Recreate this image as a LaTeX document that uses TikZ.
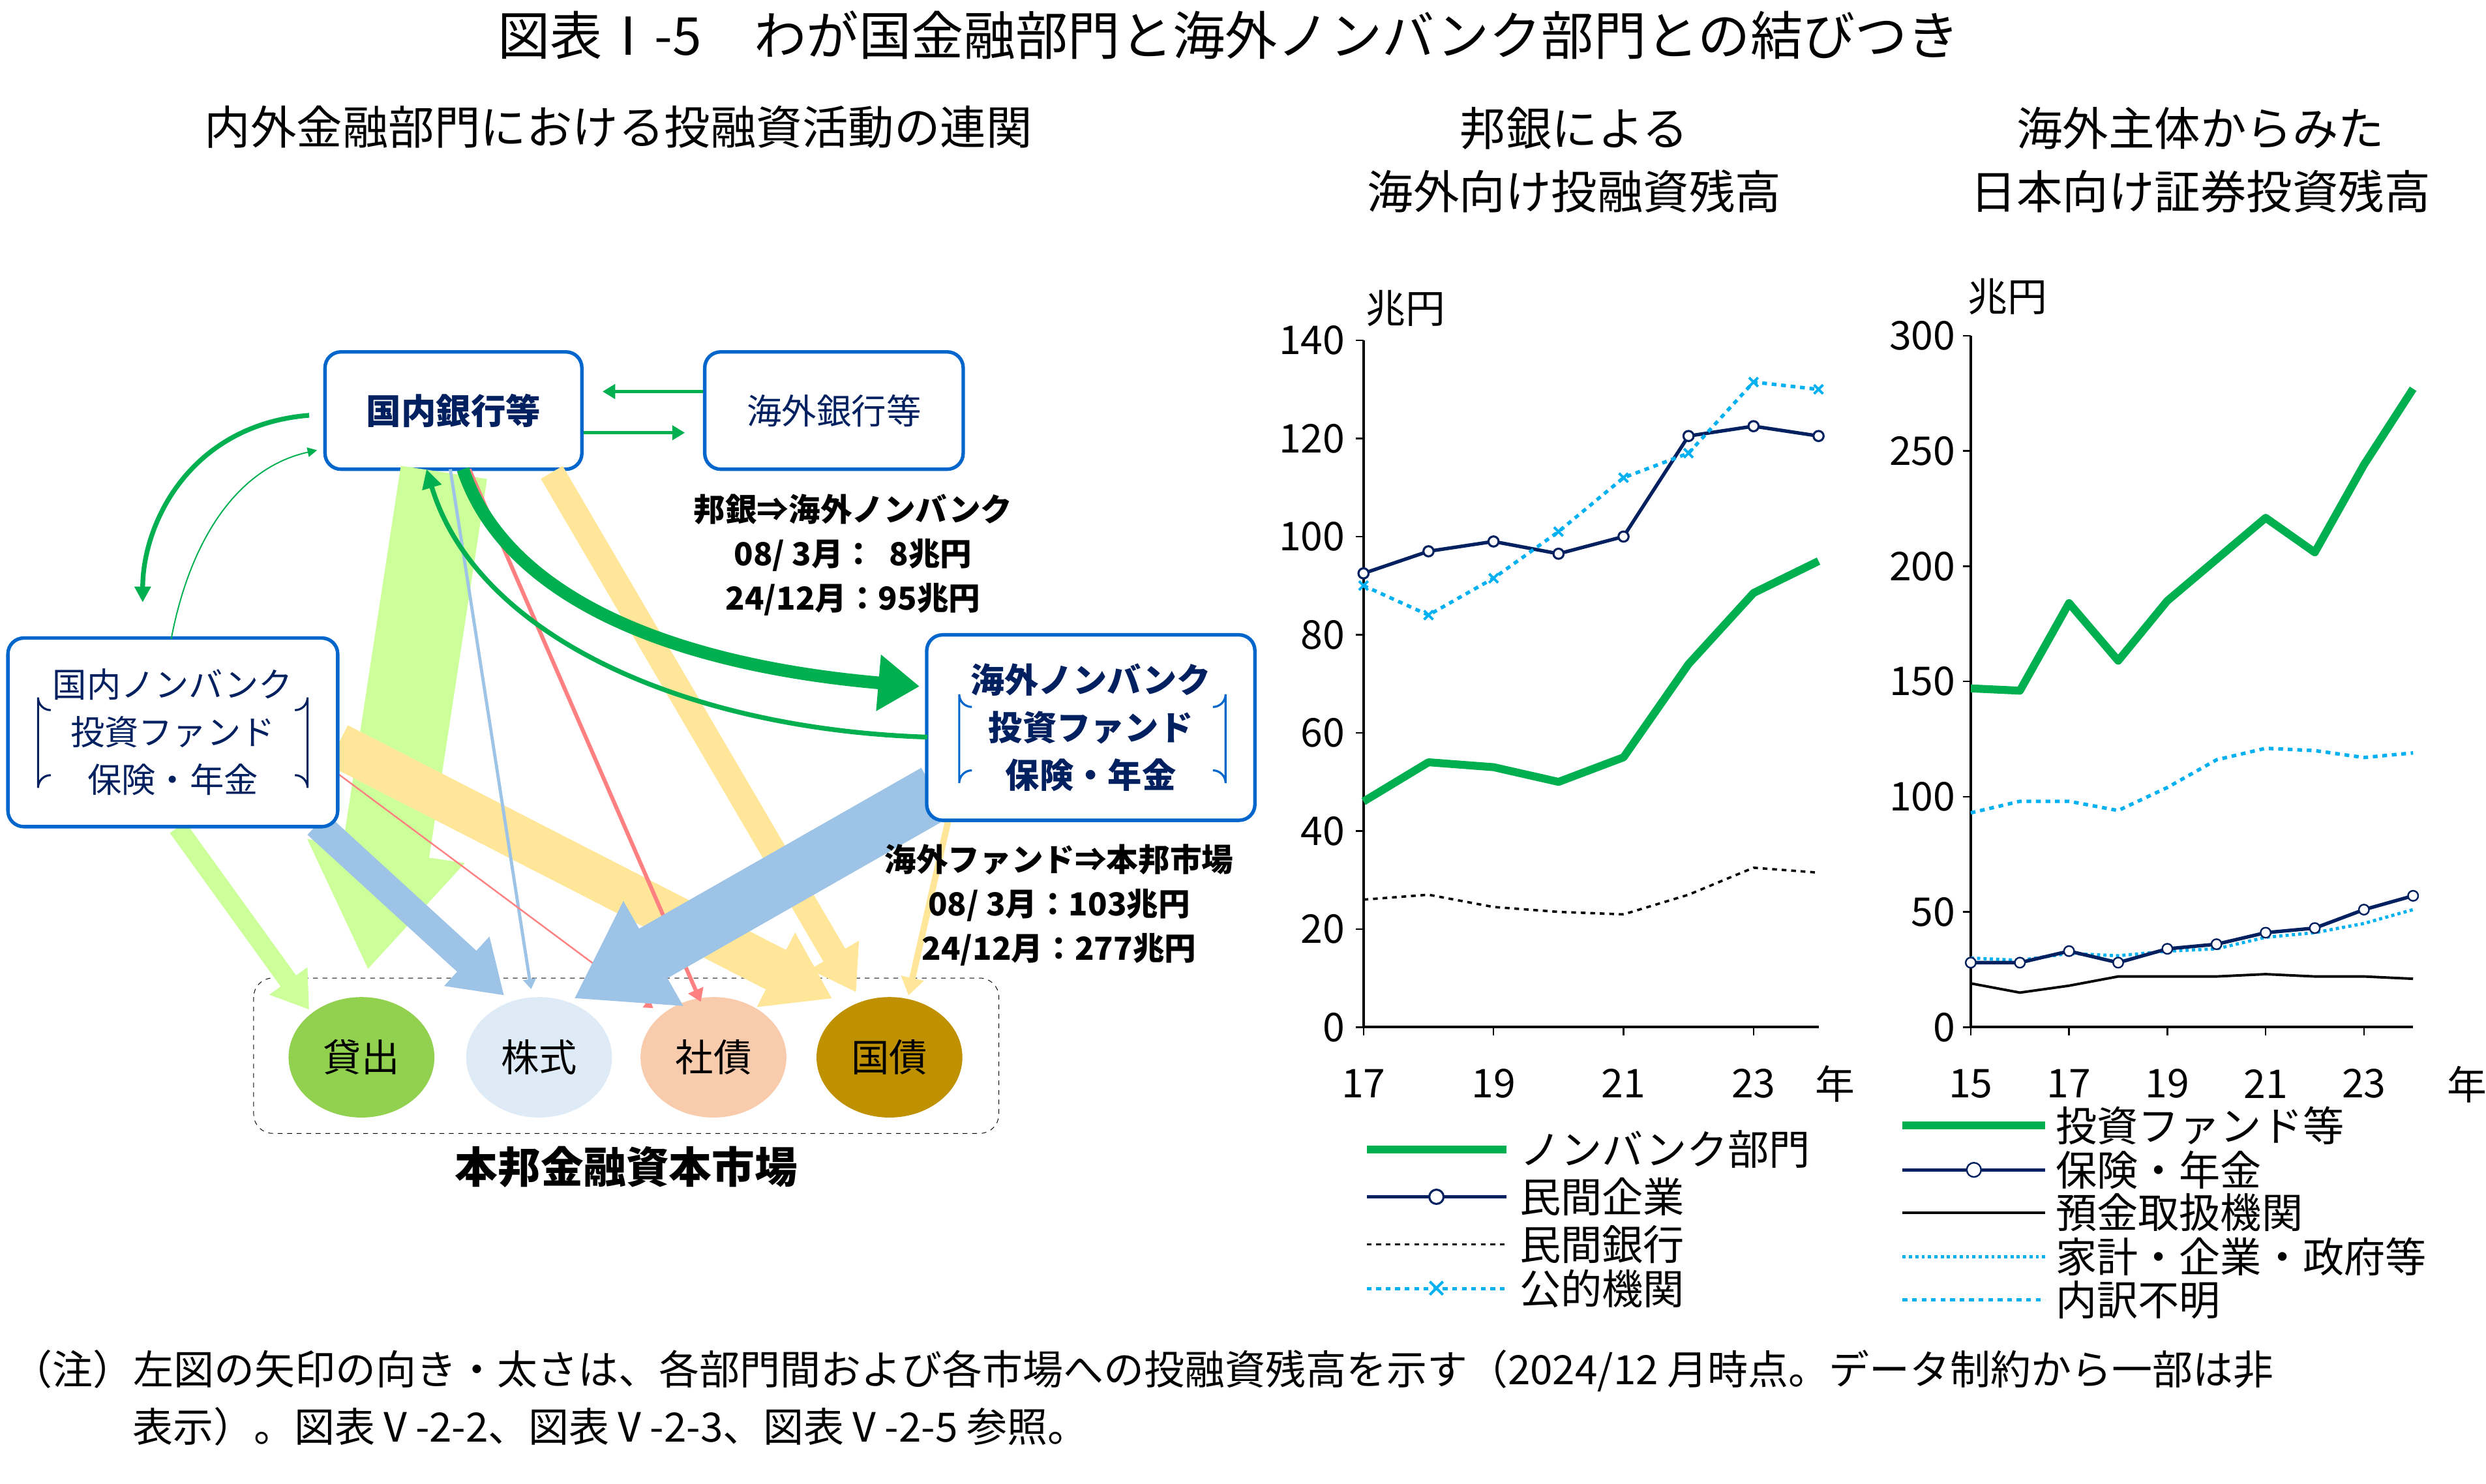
\documentclass[tikz,border=0pt]{standalone}
\usepackage{fontspec}
\setmainfont{Noto Sans CJK JP}
\usetikzlibrary{arrows.meta,shapes.geometric,calc}
\definecolor{navy}{RGB}{0,32,96}
\definecolor{bbox}{RGB}{0,102,204}
\definecolor{gr}{RGB}{0,176,80}
\definecolor{lgr}{RGB}{204,255,153}
\definecolor{lblue}{RGB}{157,195,230}
\definecolor{cyan2}{RGB}{0,176,240}
\definecolor{ylw}{RGB}{255,230,153}
\definecolor{rd}{RGB}{255,128,128}
\begin{document}
\begin{tikzpicture}[x=1pt,y=-1pt,
  box/.style={draw=bbox,line width=2.2pt,rounded corners=10pt,fill=white,align=center},
  mk/.style={ellipse,minimum width=92pt,minimum height=76pt,inner sep=0},
  lab/.style={font=\fontsize{20}{28}\selectfont\bfseries,align=center},
  tick/.style={font=\fontsize{25}{27}\selectfont},
  leg/.style={font=\fontsize{26}{28}\selectfont,anchor=west},
  wa/.style={-{Triangle[width=#1,length=0.8*#1]}}]
\useasboundingbox (0,0) rectangle (1568,936);
% titles
\node[font=\fontsize{33}{36}\selectfont] (title) at (775,22) {図表Ⅰ-5　わが国金融部門と海外ノンバンク部門との結びつき};
\node[font=\fontsize{29}{33}\selectfont] (st1) at (390,80) {内外金融部門における投融資活動の連関};
\node[font=\fontsize{29}{40}\selectfont,align=center] (st2) at (993,101) {邦銀による\\海外向け投融資残高};
\node[font=\fontsize{29}{40}\selectfont,align=center] (st3) at (1388,101) {海外主体からみた\\日本向け証券投資残高};
% market frame
\draw[dashed,rounded corners=12pt] (160,617) rectangle (630,715);
\node[font=\fontsize{27}{30}\selectfont\bfseries] (mkt) at (395,736) {本邦金融資本市場};
% nodes
\node[box,minimum width=162pt,minimum height=74pt,text=navy,font=\fontsize{22}{24}\selectfont\bfseries] (jb) at (286,259) {国内銀行等};
\node[box,minimum width=163pt,minimum height=74pt,text=navy,font=\fontsize{22}{24}\selectfont] (ob) at (526,259) {海外銀行等};
\node[mk,fill={rgb,255:red,146;green,208;blue,80}] (loan) at (228,667) {};
\node[mk,fill={rgb,255:red,222;green,235;blue,247}] (stk) at (340,667) {};
\node[mk,fill={rgb,255:red,248;green,203;blue,173}] (cb) at (450,667) {};
\node[mk,fill={rgb,255:red,191;green,144;blue,0}] (jgb) at (561,667) {};
% flows
\draw[lgr,line width=55pt,wa=95pt] (280,298) -- (232,612);
\draw[lgr,line width=12pt,wa=28pt] (112,522) -- (195,637);
\draw[ylw,line width=28pt,wa=50pt] (213,470) -- (525,630);
\draw[ylw,line width=16pt,wa=34pt] (348,298) -- (540,626);
\draw[ylw,line width=4pt,wa=14pt] (598,518) -- (573,628);
\draw[lblue,line width=18pt,wa=40pt] (200,520) -- (318,628);
\draw[lblue,line width=2pt,wa=8pt] (284,296) -- (335,624);
\draw[rd,line width=2.5pt,wa=10pt] (296,296) -- (442,632);
\draw[rd,line width=1pt,wa=7pt] (213,488) -- (412,636);
\draw[lblue,line width=36pt,wa=72pt] (590,500) -- (362,630);
\node[font=\fontsize{24}{26}\selectfont] at (loan) {貸出};
\node[font=\fontsize{24}{26}\selectfont] at (stk) {株式};
\node[font=\fontsize{24}{26}\selectfont] at (cb) {社債};
\node[font=\fontsize{24}{26}\selectfont] at (jgb) {国債};
\node[box,minimum width=208pt,minimum height=119pt] (jn) at (109,462) {};
\node[box,minimum width=207pt,minimum height=117pt] (on) at (688,459) {};
\node[text=navy,font=\fontsize{21.5}{30}\selectfont,align=center] at (109,462) {国内ノンバンク\\投資ファンド\\保険・年金};
\node[text=navy,font=\fontsize{21.5}{30}\selectfont\bfseries,align=center] at (688,459) {海外ノンバンク\\投資ファンド\\保険・年金};
\draw[navy,line width=1.3pt] (32,448) arc[start angle=90,end angle=180,radius=8] -- (24,497) arc[start angle=180,end angle=270,radius=8];
\draw[navy,line width=1.3pt] (186,448) arc[start angle=90,end angle=0,radius=8] -- (194,497) arc[start angle=0,end angle=-90,radius=8];
\draw[bbox,line width=1.3pt] (613,446) arc[start angle=90,end angle=180,radius=8] -- (605,494) arc[start angle=180,end angle=270,radius=8];
\draw[bbox,line width=1.3pt] (765,446) arc[start angle=90,end angle=0,radius=8] -- (773,494) arc[start angle=0,end angle=-90,radius=8];
% green links
\draw[gr,line width=2pt,-{Triangle[width=9pt,length=8pt]}] (ob.west|-0,247) -- (380,247);
\draw[gr,line width=2pt,-{Triangle[width=9pt,length=8pt]}] (jb.east|-0,273) -- (432,273);
\draw[gr,line width=3pt,-{Triangle[width=10pt,length=10pt]}] (195,262) .. controls (120,268) and (90,330) .. (90,380);
\draw[gr,line width=0.8pt,-{Triangle[width=6pt,length=6pt]}] (108,403) .. controls (120,340) and (150,295) .. (200,284);
\draw[gr,line width=8pt,-{Triangle[width=34pt,length=26pt]}] (292,296) .. controls (320,380) and (430,420) .. (580,433);
\draw[gr,line width=3pt,-{Triangle[width=12pt,length=12pt]}] (585,465) .. controls (430,460) and (300,400) .. (269,296);
\node[lab] (l1) at (538,350) {邦銀⇒海外ノンバンク\\08/ 3月：\ \ 8兆円\\24/12月：95兆円};
\node[lab] (l2) at (668,571) {海外ファンド⇒本邦市場\\08/ 3月：103兆円\\24/12月：277兆円};
% chart 1
\begin{scope}[shift={(860,648)},x=41pt,y={(0,3.095pt)}]
\draw[line width=1.6pt] (0,140) -- (0,0) -- (7,0);
\foreach \v in {0,20,...,140} {\draw[line width=1pt] (0,\v) -- ++(-5pt,0); \node[tick,anchor=east] at (-0.2,\v) {\v};}
\foreach \i/\l in {0/17,2/19,4/21,6/23} {\draw[line width=1pt] (\i,0) -- ++(0,-5pt); \node[tick] at (\i,-11.5) {\l};}
\node[tick] at (7.25,-11.5) {年};
\node[tick] at (0.65,146.5) {兆円};
\draw[black,line width=1.5pt,dashed] plot coordinates {(0,26)(1,27)(2,24.5)(3,23.5)(4,23)(5,27)(6,32.5)(7,31.5)};
\draw[gr,line width=5pt,line join=round] plot coordinates {(0,46)(1,54)(2,53)(3,50)(4,55)(5,74)(6,88.5)(7,95)};
\draw[navy,line width=2.2pt,mark=*,mark options={fill=white,draw=navy,line width=1.3pt,scale=1.6}] plot coordinates {(0,92.5)(1,97)(2,99)(3,96.5)(4,100)(5,120.5)(6,122.5)(7,120.5)};
\draw[cyan2,line width=2.2pt,dashed,mark=x,mark options={solid,line width=1.6pt,scale=2}] plot coordinates {(0,90)(1,84)(2,91.5)(3,101)(4,112)(5,117)(6,131.5)(7,130)};
\end{scope}
% chart 2
\begin{scope}[shift={(1243,648)},x=31pt,y={(0,1.454pt)}]
\draw[line width=1.6pt] (0,300) -- (0,0) -- (9,0);
\foreach \v in {0,50,...,300} {\draw[line width=1pt] (0,\v) -- ++(-5pt,0); \node[tick,anchor=east] at (-0.2,\v) {\v};}
\foreach \i/\l in {0/15,2/17,4/19,6/21,8/23} {\draw[line width=1pt] (\i,0) -- ++(0,-5pt); \node[tick] at (\i,-24.5) {\l};}
\node[tick] at (10.1,-25) {年};
\node[tick] at (0.75,317) {兆円};
\draw[black,line width=1.6pt] plot coordinates {(0,19)(1,15)(2,18)(3,22)(4,22)(5,22)(6,23)(7,22)(8,22)(9,21)};
\draw[cyan2,line width=2pt,dotted] plot coordinates {(0,30)(1,29)(2,32)(3,31)(4,33)(5,34)(6,39)(7,41)(8,45)(9,51)};
\draw[navy,line width=2.2pt,mark=*,mark options={fill=white,draw=navy,line width=1pt,scale=1.6}] plot coordinates {(0,28)(1,28)(2,33)(3,28)(4,34)(5,36)(6,41)(7,43)(8,51)(9,57)};
\draw[cyan2,line width=2.2pt,dashed,mark=asterisk,mark options={solid,line width=1.2pt,scale=1.6}] plot coordinates {(0,93)(1,98)(2,98)(3,94)(4,104)(5,116)(6,121)(7,120)(8,117)(9,119)};
\draw[gr,line width=5pt,line join=round] plot coordinates {(0,147)(1,146)(2,184)(3,159)(4,185)(5,203)(6,221)(7,206)(8,244)(9,277)};
\end{scope}
% legend 1
\draw[gr,line width=5pt] (862,725) -- (950,725); \node[leg] at (955,725) {ノンバンク部門};
\draw[navy,line width=2.2pt] (862,755) -- (950,755); \draw[navy,fill=white,line width=1.3pt] (906,755) circle (4.5pt); \node[leg] at (955,755) {民間企業};
\draw[black,line width=1.5pt,dashed] (862,785) -- (950,785); \node[leg] at (955,785) {民間銀行};
\draw[cyan2,line width=2.2pt,dashed] (862,813) -- (950,813); \node[cyan2,font=\Large\bfseries] at (906,813) {×}; \node[leg] at (955,813) {公的機関};
% legend 2
\draw[gr,line width=5pt] (1200,710) -- (1290,710); \node[leg] at (1293,710) {投資ファンド等};
\draw[navy,line width=2.2pt] (1200,738) -- (1290,738); \draw[navy,fill=white,line width=1pt] (1245,738) circle (4.5pt); \node[leg] at (1293,738) {保険・年金};
\draw[black,line width=1.6pt] (1200,765) -- (1290,765); \node[leg] at (1293,765) {預金取扱機関};
\draw[cyan2,line width=2pt,dotted] (1200,793) -- (1290,793); \node[leg] at (1293,793) {家計・企業・政府等};
\draw[cyan2,line width=2.2pt,dashed] (1200,820) -- (1290,820); \node[cyan2] at (1245,820) {\pgfuseplotmark{asterisk}}; \node[leg] at (1293,820) {内訳不明};
% note
\node[anchor=west,font=\fontsize{25.5}{28}\selectfont] (n1) at (4,865) {（注）左図の矢印の向き・太さは、各部門間および各市場への投融資残高を示す（2024/12 月時点。データ制約から一部は非};
\node[anchor=west,font=\fontsize{25.5}{28}\selectfont] (n2) at (80,900) {表示）。図表Ⅴ-2-2、図表Ⅴ-2-3、図表Ⅴ-2-5 参照。};
\end{tikzpicture}
\end{document}
